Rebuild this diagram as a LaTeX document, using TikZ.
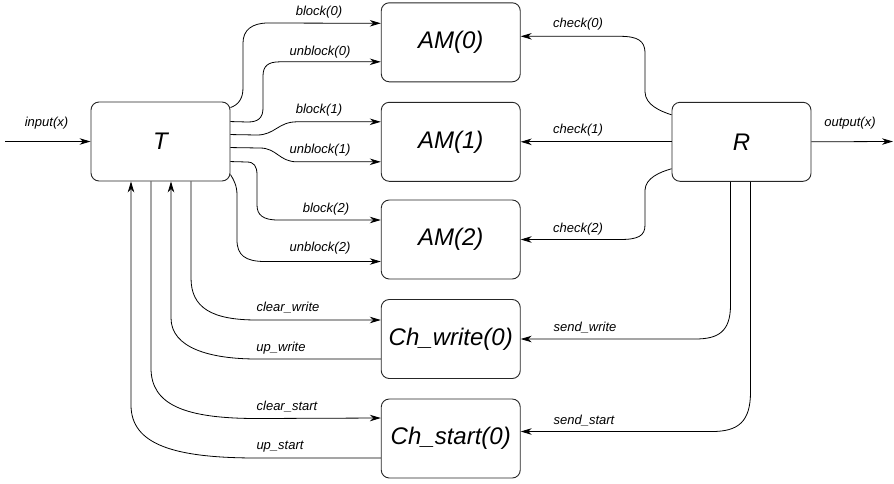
\documentclass[tikz,border=0pt]{standalone}
\usepackage{fontspec}
\setmainfont{Liberation Sans}
\usetikzlibrary{arrows.meta,calc}
\begin{document}
\begin{tikzpicture}[x=1pt,y=-1pt,
  box/.style={draw=black!85, line width=0.9pt, rounded corners=8pt,
    minimum width=139pt, minimum height=79pt, inner sep=0pt,
    font=\itshape\fontsize{24}{28}\selectfont},
  lbl/.style={font=\itshape\fontsize{13}{15}\selectfont, inner sep=0pt},
  wire/.style={line width=0.8pt},
  arr/.style={wire, -{Stealth[length=11pt,width=6.5pt,inset=3.5pt]}},
]
\useasboundingbox (0,0) rectangle (894,483);

% processes
\node[box] (T)   at (160.5,141.5) {T};
\node[box] (AM0) at (450.75,42.3) {AM(0)};
\node[box] (AM1) at (450.75,141.8) {AM(1)};
\node[box] (AM2) at (450.75,239.5) {AM(2)};
\node[box] (CW)  at (450.75,339) {Ch\_write(0)};
\node[box] (CS)  at (450.75,438.5) {Ch\_start(0)};
\node[box] (R)   at (741.5,141.8) {R};

% ports on T
\coordinate (t0) at ($(T.north east)+(0,6)$);
\coordinate (t1) at ($(T.north east)+(0,20)$);
\coordinate (t2) at ($(T.north east)+(0,33)$);
\coordinate (t3) at ($(T.north east)+(0,46)$);
\coordinate (t4) at ($(T.north east)+(0,60)$);
\coordinate (t5) at ($(T.north east)+(0,73)$);
\coordinate (tb0) at ($(T.south)+(-29.5,0)$);
\coordinate (tb1) at ($(T.south)+(-9.5,0)$);
\coordinate (tb2) at ($(T.south)+(10.5,0)$);
\coordinate (tb3) at ($(T.south)+(30.5,0)$);
% ports on the AM and channel boxes
\coordinate (a0b) at ($(AM0.west)+(0,-19)$);
\coordinate (a0u) at ($(AM0.west)+(0,19.5)$);
\coordinate (a1b) at ($(AM1.west)+(0,-20)$);
\coordinate (a1u) at ($(AM1.west)+(0,20)$);
\coordinate (a2b) at ($(AM2.west)+(0,-19.5)$);
\coordinate (a2u) at ($(AM2.west)+(0,22)$);
\coordinate (a0c) at ($(AM0.east)+(0,-6)$);
\coordinate (cww) at ($(CW.west)+(0,-19)$);
\coordinate (cwu) at ($(CW.west)+(0,20)$);
\coordinate (csw) at ($(CS.west)+(0,-20.5)$);
\coordinate (csu) at ($(CS.west)+(0,19.5)$);
\coordinate (cse) at ($(CS.east)+(0,-7)$);
% ports on R
\coordinate (r0) at ($(R.north west)+(0,13)$);
\coordinate (r2) at ($(R.south west)+(0,-13)$);
\coordinate (rs1) at ($(R.south)+(-11,0)$);
\coordinate (rs2) at ($(R.south)+(9,0)$);
% free ends
\coordinate (inp) at (5,141.5);
\coordinate (outp) at (893,141.5);

% input and output
\draw[arr] (inp) -- (T.west);
\draw[arr] (R.east) -- (outp);

% T to the AM boxes
\draw[arr] (t0) .. controls (238,105) and (243,99) .. (243,88) -- (243,43)
  .. controls (243,30) and (252,23) .. (268,23) -- (a0b);
\draw[arr] (t1) -- (248,122) .. controls (258,122) and (263,118) .. (263,108)
  -- (263,76) .. controls (263,66) and (268,61.8) .. (280,61.8) -- (a0u);
\draw[arr] (t2) -- (257,135) .. controls (275,135) and (278,121.8) .. (297,121.8) -- (a1b);
\draw[arr] (t3) -- (260,148) .. controls (277,148) and (279,161.8) .. (297,161.8) -- (a1u);
\draw[arr] (t4) -- (247,162) .. controls (254,162) and (257,166) .. (257,175)
  -- (257,205) .. controls (257,215) and (263,220) .. (278,220) -- (a2b);
\draw[arr] (t5) .. controls (234,180) and (237,186) .. (237,195) -- (237,240)
  .. controls (237,255) and (245,261.5) .. (265,261.5) -- (a2u);

% R to the AM boxes
\draw[arr] (r0) .. controls (660,111) and (645.5,105) .. (645,92) -- (645,52)
  .. controls (644.5,41) and (638,36.3) .. (620,36.3) -- (a0c);
\draw[arr] (R.west) -- (AM1.east);
\draw[arr] (r2) .. controls (660,172) and (645.5,178) .. (645,190) -- (645,225)
  .. controls (645,236) and (638,239.5) .. (620,239.5) -- (AM2.east);

% R to the channels
\draw[arr] (rs1) -- (730.5,305) .. controls (730.5,332) and (718,339) .. (695,339) -- (CW.east);
\draw[arr] (rs2) -- (750.5,392) .. controls (750.5,422) and (738,431.5) .. (712,431.5) -- (cse);

% T and the channels
\draw[arr] (tb3) -- (191,278) .. controls (191,308) and (212,320) .. (257,320) -- (cww);
\draw[arr] (cwu) -- (257,359) .. controls (210,359) and (171,348) .. (171,318) -- (tb2);
\draw[arr] (tb1) -- (151,368) .. controls (151,405) and (185,418.5) .. (257,418.5) -- (csw);
\draw[arr] (csu) -- (257,458) .. controls (175,458) and (131,445) .. (131,405) -- (tb0);

% signal names
\node[lbl] (lin)  at (46.5,123.5) {input(x)};
\node[lbl] (lout) at (850,123) {output(x)};
\node[lbl] (lb0) at (319,12) {block(0)};
\node[lbl] (lu0) at (320,52) {unblock(0)};
\node[lbl] (lb1) at (319,110) {block(1)};
\node[lbl] (lu1) at (320,150) {unblock(1)};
\node[lbl] (lb2) at (326,209) {block(2)};
\node[lbl] (lu2) at (320,248) {unblock(2)};
\node[lbl] (lc0) at (578,24) {check(0)};
\node[lbl] (lc1) at (578,130) {check(1)};
\node[lbl] (lc2) at (578,229) {check(2)};
\node[lbl] (lsw) at (585,328) {send\_write};
\node[lbl] (lss) at (584,421) {send\_start};
\node[lbl] (lcw) at (288,308) {clear\_write};
\node[lbl] (luw) at (281,348) {up\_write};
\node[lbl] (lcs) at (287,407) {clear\_start};
\node[lbl] (lus) at (280,447) {up\_start};
\end{tikzpicture}
\end{document}
